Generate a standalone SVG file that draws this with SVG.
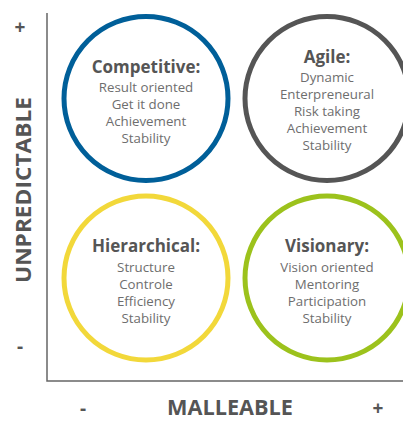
<svg xmlns="http://www.w3.org/2000/svg" width="403" height="421" viewBox="0 0 403 421">
<style>
.ring{fill:none;stroke-width:5}
.title{font-family:"Open Sans","Liberation Sans",sans-serif;font-weight:700;font-size:17px;fill:#555;text-anchor:middle}
.body{font-family:"Open Sans","Liberation Sans",sans-serif;font-weight:400;font-size:13.3px;fill:#6e6e6e;text-anchor:middle}
.axis{font-family:"Open Sans","Liberation Sans",sans-serif;font-weight:700;fill:#555;text-anchor:middle}
</style>
<rect width="403" height="421" fill="#fff"/>
<g id="axes">
<polyline points="47,13 47,381 403,381" fill="none" stroke="#666" stroke-width="1.5"/>
<text class="axis" font-size="21" transform="translate(31,190) rotate(-90)" textLength="186" lengthAdjust="spacingAndGlyphs">UNPREDICTABLE</text>
<text class="axis" font-size="21" x="230" y="415" textLength="126" lengthAdjust="spacingAndGlyphs">MALLEABLE</text>
<text class="axis" font-size="19" x="20" y="34">+</text>
<text class="axis" font-size="19" x="20" y="353">-</text>
<text class="axis" font-size="19" x="83" y="415">-</text>
<text class="axis" font-size="19" x="378" y="415">+</text>
</g>
<g id="competitive">
<circle class="ring" cx="146" cy="98.5" r="82" stroke="#005f99"/>
<text class="title" x="146" y="73">Competitive:</text>
<text class="body" x="146" y="92">Result oriented</text>
<text class="body" x="146" y="109">Get it done</text>
<text class="body" x="146" y="126">Achievement</text>
<text class="body" x="146" y="143">Stability</text>
</g>
<g id="agile">
<circle class="ring" cx="327" cy="98.5" r="82" stroke="#555"/>
<text class="title" x="327" y="63">Agile:</text>
<text class="body" x="327" y="82">Dynamic</text>
<text class="body" x="327" y="99">Enterpreneural</text>
<text class="body" x="327" y="116">Risk taking</text>
<text class="body" x="327" y="133">Achievement</text>
<text class="body" x="327" y="150">Stability</text>
</g>
<g id="hierarchical">
<circle class="ring" cx="146" cy="278" r="82" stroke="#f2d83a"/>
<text class="title" x="146" y="252">Hierarchical:</text>
<text class="body" x="146" y="272">Structure</text>
<text class="body" x="146" y="289">Controle</text>
<text class="body" x="146" y="306">Efficiency</text>
<text class="body" x="146" y="323">Stability</text>
</g>
<g id="visionary">
<circle class="ring" cx="327" cy="278" r="82" stroke="#9cc21c"/>
<text class="title" x="327" y="252">Visionary:</text>
<text class="body" x="327" y="272">Vision oriented</text>
<text class="body" x="327" y="289">Mentoring</text>
<text class="body" x="327" y="306">Participation</text>
<text class="body" x="327" y="323">Stability</text>
</g>
</svg>
